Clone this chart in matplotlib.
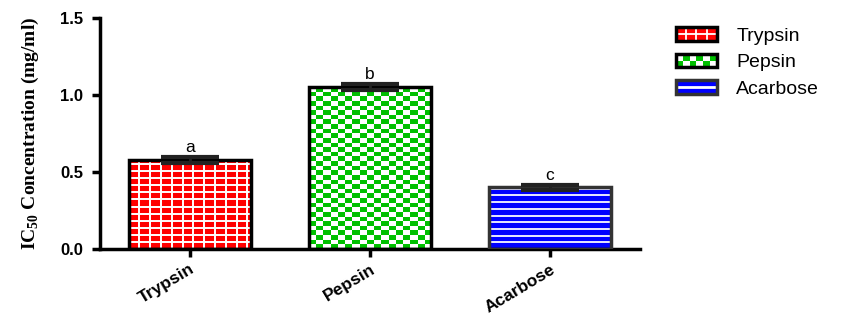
import matplotlib.pyplot as plt
import numpy as np
from matplotlib.patches import Rectangle
from matplotlib.lines import Line2D
from matplotlib.colors import ListedColormap
from matplotlib.legend_handler import HandlerBase

categories = ['Trypsin', 'Pepsin', 'Acarbose']
values = [0.58, 1.05, 0.40]
errors = [0.02, 0.02, 0.015]
letters = ['a', 'b', 'c']
colors = ['#ff0000', '#00c000', '#0000ff']
edges = ['black', 'black', '#333333']

fig = plt.figure(figsize=(8.6, 3.23), dpi=100)
ax = fig.add_axes([0.116, 0.229, 0.628, 0.715])

x = np.arange(len(categories))
w = 0.68

bars = ax.bar(x, values, w, color=colors, linewidth=0, zorder=2)

# grid pattern on trypsin
b = bars[0]
gx, gy = 0.06, 0.046
vx = np.arange(b.get_x() + gx, b.get_x() + b.get_width(), gx)
hy = np.arange(gy, b.get_height(), gy)
lc1 = ax.vlines(vx, 0, b.get_height(), colors='white', lw=1.4, zorder=2.5)
lc2 = ax.hlines(hy, b.get_x(), b.get_x() + b.get_width(), colors='white', lw=1.4, zorder=2.5)
lc1.set_clip_path(b)
lc2.set_clip_path(b)

# checkerboard on pepsin
b = bars[1]
nx = int(round(b.get_width() / 0.041))
ny = int(round(b.get_height() / 0.030))
yy, xx = np.mgrid[0:ny, 0:nx]
checker = ((xx + yy) % 2).astype(float)
im = ax.imshow(checker, cmap=ListedColormap(['white', colors[1]]),
               extent=[b.get_x(), b.get_x() + b.get_width(), 0, b.get_height()],
               aspect='auto', interpolation='nearest', zorder=2.5, origin='lower')
im.set_clip_path(b)

# stripes on acarbose
b = bars[2]
hy = np.arange(0.0435, b.get_height(), 0.0435)
lc3 = ax.hlines(hy, b.get_x(), b.get_x() + b.get_width(), colors='#e8e8ff', lw=1.4, zorder=2.5)
lc3.set_clip_path(b)

# outlines
ax.bar(x, values, w, fill=False, edgecolor=edges, linewidth=2.5, zorder=3)

ax.errorbar(x, values, yerr=errors, fmt='none', ecolor='#222222', elinewidth=2,
            capsize=21, capthick=3, zorder=4)

for xi, v, e, t in zip(x, values, errors, letters):
    ax.text(xi, v + e + 0.012, t, ha='center', va='bottom', fontsize=12.5, family='Liberation Sans')

ax.set_xlim(-0.5, 2.5)
ax.set_ylim(0, 1.5)
ax.set_yticks([0.0, 0.5, 1.0, 1.5])
ax.set_yticklabels(['0.0', '0.5', '1.0', '1.5'], fontweight='bold', fontsize=12, family='Liberation Sans')
ax.set_xticks(x)
ax.set_xticklabels(categories, rotation=31, ha='right', rotation_mode='anchor',
                   fontweight='bold', fontsize=12.5, family='Liberation Sans')
ax.tick_params(axis='both', width=2.5, length=6, direction='out')
ax.tick_params(axis='x', pad=3)
ax.tick_params(axis='y', pad=6)
for s in ['top', 'right']:
    ax.spines[s].set_visible(False)
for s in ['left', 'bottom']:
    ax.spines[s].set_linewidth(2.5)

ax.set_ylabel(r'IC$_{\mathregular{50}}$ Concentration (mg/ml)', family='Liberation Serif',
              fontweight='bold', fontsize=14, labelpad=14)


class PatternHandler(HandlerBase):
    def __init__(self, kind):
        super().__init__()
        self.kind = kind

    def create_artists(self, legend, orig, xd, yd, width, height, fontsize, trans):
        x0, y0 = xd, yd
        fc = orig.get_facecolor()
        arts = [Rectangle((x0, y0), width, height, facecolor=fc, edgecolor='none', transform=trans)]
        if self.kind == 'grid':
            for i in range(1, 4):
                arts.append(Line2D([x0 + i * width / 4] * 2, [y0, y0 + height], color='white', lw=1.3, transform=trans))
            arts.append(Line2D([x0, x0 + width], [y0 + height / 2] * 2, color='white', lw=1.3, transform=trans))
            ec = 'black'
        elif self.kind == 'checker':
            arts[0].set_facecolor('white')
            n = 6
            for i in range(n):
                for j in range(2):
                    if (i + j) % 2 == 0:
                        arts.append(Rectangle((x0 + i * width / n, y0 + j * height / 2), width / n, height / 2,
                                              facecolor=colors[1], edgecolor='none', transform=trans))
            ec = 'black'
        else:
            arts.append(Line2D([x0, x0 + width], [y0 + height / 2] * 2, color='white', lw=2, transform=trans))
            ec = '#333333'
        arts.append(Rectangle((x0, y0), width, height, fill=False, edgecolor=ec, lw=2.5, transform=trans))
        return arts


h1 = Rectangle((0, 0), 1, 1, facecolor=colors[0])
h2 = Rectangle((0, 0), 1, 1, facecolor=colors[1])
h3 = Rectangle((0, 0), 1, 1, facecolor=colors[2])
leg = fig.legend([h1, h2, h3], categories, loc='upper left', bbox_to_anchor=(0.786, 0.915),
                 frameon=False, handlelength=2.1, handleheight=0.7, handletextpad=1.0,
                 labelspacing=0.45, borderaxespad=0, borderpad=0,
                 prop={'family': 'Liberation Sans', 'size': 14},
                 handler_map={h1: PatternHandler('grid'), h2: PatternHandler('checker'),
                              h3: PatternHandler('stripe')})

fig.savefig('out.png', dpi=100)
